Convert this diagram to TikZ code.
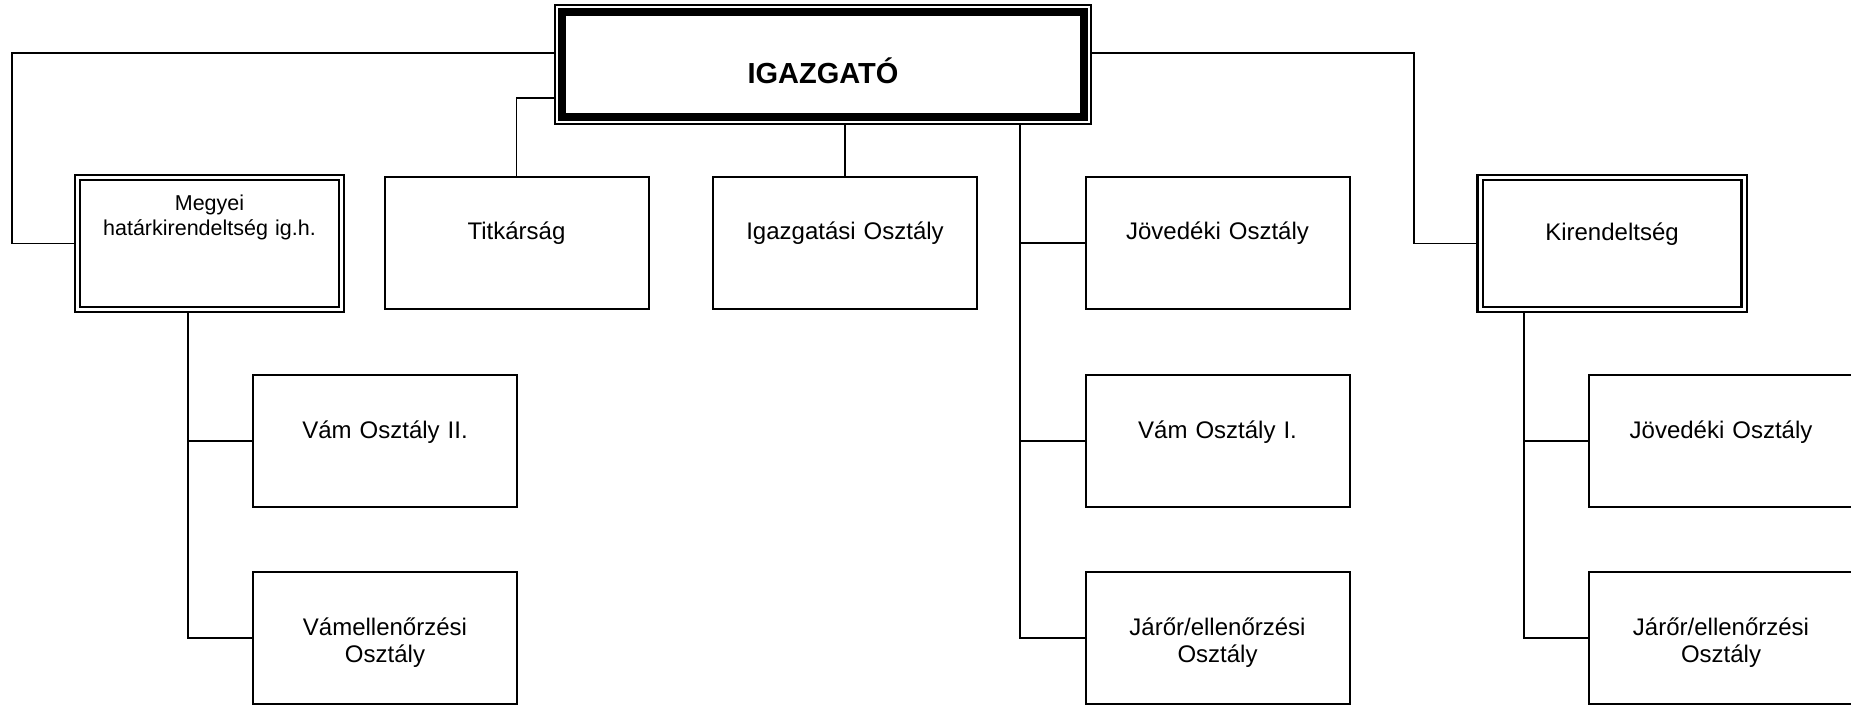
\documentclass[tikz,border=0pt]{standalone}
\usepackage{fontspec}
\setmainfont{Liberation Sans}
\begin{document}
\begin{tikzpicture}[x=0.5pt,y=-0.5pt,
  unit/.style={draw, line width=1pt, fill=white, minimum width=132pt, minimum height=66pt,
    inner sep=0pt, text width=124pt, align=center,
    font=\fontsize{12pt}{13.5pt}\selectfont, text height=9pt, text depth=12pt},
  branch/.style={unit, double, line width=1.05pt, double distance=1.5pt, outer sep=1.8pt},
  frame/.style={draw, line width=0.75pt, minimum width=268pt, minimum height=59.5pt, inner sep=0pt, outer sep=0pt},
  head/.style={draw, line width=4pt, minimum width=261pt, minimum height=52.5pt, inner sep=0pt,
    font=\fontsize{14.5pt}{17pt}\selectfont\bfseries, text height=19.4pt, text depth=0pt},
  link/.style={line width=0.75pt}]
\useasboundingbox (0,0) rectangle (1851,705);

% top
\node[frame] (dirframe) at (823,64.5) {};
\node[head] (dir) at (823,64.5) {IGAZGATÓ};

% first row
\node[branch, font=\fontsize{10.75pt}{12.5pt}\selectfont, text height=8pt, text depth=40.8pt]
  (megyei) at (209.5,243.5) {Megyei\\határkirendeltség ig.h.};
\node[unit] (titk) at (516.5,243) {Titkárság};
\node[unit] (igaz) at (845,243) {Igazgatási Osztály};
\node[unit] (jov1) at (1217.5,243) {Jövedéki Osztály};
\node[branch] (kir) at (1612,243.5) {Kirendeltség};

% lower rows
\node[unit] (vam2) at (385,441) {Vám Osztály II.};
\node[unit] (vamell) at (385,638) {Vámellenőrzési\\Osztály};
\node[unit] (vam1) at (1217.5,441) {Vám Osztály I.};
\node[unit] (jaror1) at (1217.5,638) {Járőr/ellenőrzési\\Osztály};
\node[unit] (jov2) at (1721,441) {Jövedéki Osztály};
\node[unit] (jaror2) at (1721,638) {Járőr/ellenőrzési\\Osztály};

\coordinate (lbend) at (12,150);
\coordinate (rbend) at (1414,150);
\coordinate (mtrunk) at (188,400);
\coordinate (jtrunk) at (1020,400);
\coordinate (ktrunk) at (1524,400);

\draw[link] ([yshift=5.75pt]dirframe.west) -| (lbend) |- (megyei.west);
\draw[link] ([yshift=-16.75pt]dirframe.west) -| (titk.north);
\draw[link] (dirframe.south -| igaz.north) -- (igaz.north);
\draw[link] ([yshift=5.75pt]dirframe.east) -| (rbend) |- (kir.west);
\draw[link] (dirframe.south -| jtrunk) |- (jaror1.west);
\draw[link] (jtrunk |- jov1.west) -- (jov1.west);
\draw[link] (jtrunk |- vam1.west) -- (vam1.west);
\draw[link] (megyei.south -| mtrunk) |- (vamell.west);
\draw[link] (mtrunk |- vam2.west) -- (vam2.west);
\draw[link] (kir.south -| ktrunk) |- (jaror2.west);
\draw[link] (ktrunk |- jov2.west) -- (jov2.west);

\end{tikzpicture}
\end{document}
